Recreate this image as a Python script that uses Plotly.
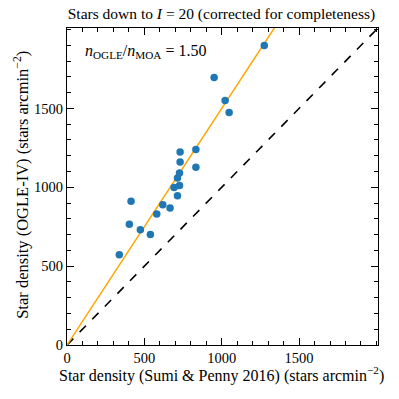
import plotly.graph_objects as go

# star densities (stars arcmin^-2)
sumi_penny = [338, 403, 414, 474, 539, 580, 619, 666, 692, 714, 714, 727, 727, 731, 731,
              833, 833, 951, 1022, 1048, 1275]
ogle_iv = [572, 766, 912, 730, 700, 831, 890, 869, 998, 947, 1059, 1011, 1091, 1160, 1224,
           1240, 1127, 1696, 1551, 1475, 1899]
ratio = 1.50
line_x = [0, 2010]
major_ticks = [0, 500, 1000, 1500]
minor_ticks = list(range(0, 2001, 100))

font = "Liberation Serif"
axis_max = 2010

fig = go.Figure()

# one-to-one line
fig.add_trace(go.Scatter(x=line_x, y=line_x, mode="lines",
                         line=dict(color="black", width=1.6, dash="dash")))
# best fit ratio
fig.add_trace(go.Scatter(x=line_x, y=[v * ratio for v in line_x], mode="lines",
                         line=dict(color="orange", width=1.5)))
fig.add_trace(go.Scatter(x=sumi_penny, y=ogle_iv, mode="markers",
                         marker=dict(color="#1f77b4", size=7.5, line=dict(width=0))))

fig.add_annotation(x=0.05, y=0.925, xref="paper", yref="paper", xanchor="left", yanchor="middle",
                   text="<i>n</i><sub>OGLE</sub>/<i>n</i><sub>MOA</sub> = %.2f" % ratio,
                   showarrow=False, font=dict(family=font, size=16, color="black"))

# axis titles as annotations so they can sit where the reference has them
fig.add_annotation(x=0.496, y=-0.092, xref="paper", yref="paper", xanchor="center", yanchor="middle",
                   text="Star density (Sumi & Penny 2016) (stars arcmin<sup>−2</sup>)",
                   showarrow=False, font=dict(family=font, size=16, color="black"))
fig.add_annotation(x=-0.145, y=0.505, xref="paper", yref="paper", xanchor="center", yanchor="middle",
                   text="Star density (OGLE-IV) (stars arcmin<sup>−2</sup>)", textangle=-90,
                   showarrow=False, font=dict(family=font, size=16.5, color="black"))

axis_style = dict(range=[0, axis_max], showgrid=False, zeroline=False, showline=True,
                  linecolor="black", linewidth=1, mirror="allticks", ticks="inside",
                  ticklen=7, tickwidth=1, tickcolor="black", tickvals=major_ticks,
                  automargin=False,
                  tickfont=dict(family=font, size=14.5, color="black"),
                  minor=dict(tickvals=minor_ticks, ticks="inside", ticklen=4,
                             tickcolor="black", tickwidth=1, showgrid=False))

fig.update_layout(
    width=399, height=399,
    margin=dict(l=67, r=21, t=28, b=54),
    plot_bgcolor="white", paper_bgcolor="white",
    showlegend=False,
    font=dict(family=font, color="black"),
    title=dict(text="Stars down to <i>I</i> = 20 (corrected for completeness)",
               x=0.555, xanchor="center", y=0.967, yanchor="middle",
               font=dict(family=font, size=15.5, color="black")),
    xaxis=axis_style,
    yaxis=axis_style,
)

# drop the browser's default body margin so the figure sits at the page corner
fig.write_html("out.html", post_script="document.body.style.margin='0';",
               config={"displayModeBar": False})
